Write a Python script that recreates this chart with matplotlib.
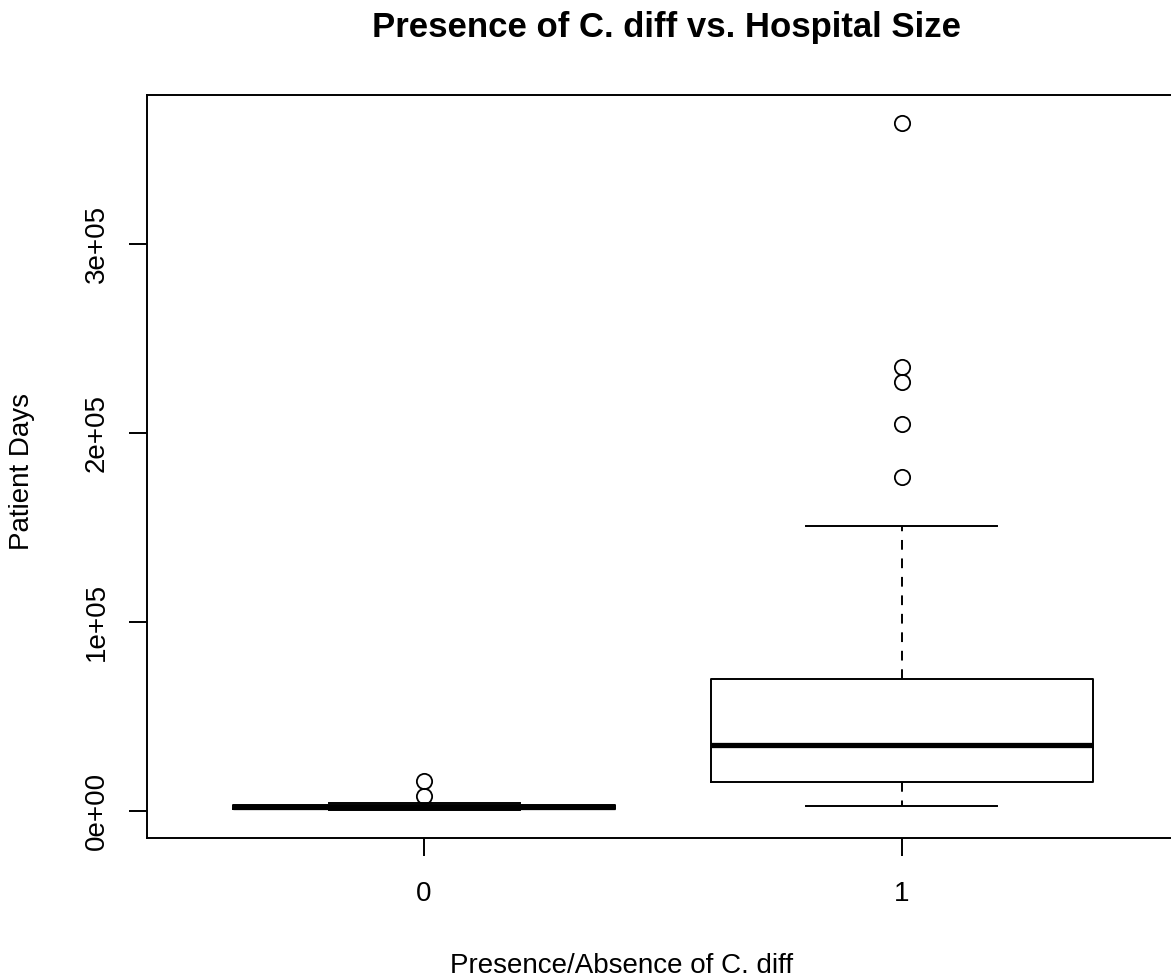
import matplotlib
matplotlib.use("Agg")
import matplotlib.pyplot as plt

plt.rcParams['font.family'] = ['Liberation Sans', 'DejaVu Sans']

# box statistics (patient days)
groups = ["0", "1"]
whislo = [200, 2600]
q1 = [1000, 15000]
med = [2300, 35000]
q3 = [3300, 69500]
whishi = [4200, 150500]
fliers_0 = [7700, 15700]
fliers_1 = [176800, 204500, 227000, 234800, 364000]
yticks = [0, 100000, 200000, 300000]
ytick_labels = ["0e+00", "1e+05", "2e+05", "3e+05"]

stats = []
for i, g in enumerate(groups):
    stats.append({
        "label": g,
        "whislo": whislo[i], "q1": q1[i], "med": med[i],
        "q3": q3[i], "whishi": whishi[i],
        "fliers": [fliers_0, fliers_1][i],
    })

W, H = 1171, 977
fig = plt.figure(figsize=(W / 100, H / 100), dpi=100)
# R-style plot region (right edge runs past the image, like the original)
ax = fig.add_axes([147 / W, 139 / H, (1179 - 147) / W, 743 / H])

lw = 1.4
ax.bxp(stats, positions=[1, 2], widths=0.8, capwidths=0.4,
       boxprops=dict(color="black", linewidth=lw),
       medianprops=dict(color="black", linewidth=3.8, solid_capstyle="butt"),
       whiskerprops=dict(color="black", linewidth=lw, linestyle=(0, (5, 4.5))),
       capprops=dict(color="black", linewidth=lw),
       flierprops=dict(marker="o", markerfacecolor="none", markeredgecolor="black",
                       markersize=11, markeredgewidth=1.3))

# R pads the data range by 4% on each side
all_vals = whislo + whishi + fliers_0 + fliers_1
lo, hi = min(all_vals), max(all_vals)
pad = 0.04 * (hi - lo)
ax.set_ylim(lo - pad, hi + pad)
ax.set_xlim(0.42, 2.58)

ax.set_xticks([1, 2])
ax.set_xticklabels(groups)
ax.set_yticks(yticks)
ax.set_yticklabels(ytick_labels, rotation=90, va="center")
ax.tick_params(axis="both", length=13, width=lw, labelsize=20, direction="out")
ax.tick_params(axis="x", pad=18)
ax.tick_params(axis="y", pad=14)
for s in ax.spines.values():
    s.set_linewidth(lw)

fig.text(666 / W, 1 - 37 / H, "Presence of C. diff vs. Hospital Size",
         ha="center", va="baseline", fontsize=25, fontweight="bold")
fig.text(622 / W, 1 - 973 / H, "Presence/Absence of C. diff",
         ha="center", va="baseline", fontsize=20)
fig.text(22 / W, 1 - 471 / H, "Patient Days", rotation=90,
         ha="center", va="center", fontsize=20)

fig.savefig("out.png", dpi=100)
